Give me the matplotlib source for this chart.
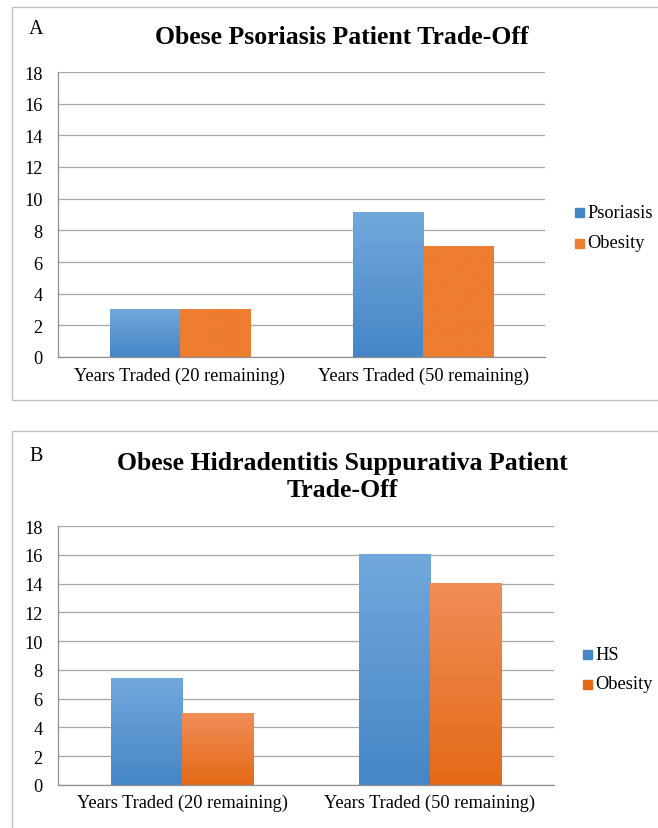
import numpy as np
import matplotlib
matplotlib.use('Agg')
import matplotlib.pyplot as plt
from matplotlib.patches import Rectangle
from matplotlib.colors import LinearSegmentedColormap

plt.rcParams['font.family'] = ['Liberation Serif', 'DejaVu Serif']

# ---- data
categories = ['Years Traded (20 remaining)', 'Years Traded (50 remaining)']
yticks = [0, 2, 4, 6, 8, 10, 12, 14, 16, 18]

title_a = 'Obese Psoriasis Patient Trade-Off'
series_a = ['Psoriasis', 'Obesity']
psoriasis = [3.0, 9.15]
obesity_a = [3.0, 7.0]

title_b = 'Obese Hidradentitis Suppurativa Patient\nTrade-Off'
series_b = ['HS', 'Obesity']
hs = [7.4, 16.0]
obesity_b = [5.0, 14.0]

W, H = 658, 829
blue_grad = ('#4586C6', '#72A8DC')
orange_flat = ('#ED7D31', '#ED7D31')
orange_grad = ('#E46A17', '#F18D58')


def fx(px):
    return px / W


def fy(py):
    return 1 - py / H


def grad_bars(ax, x, vals, width, cols):
    # bar with a vertical gradient laid over it
    cmap = LinearSegmentedColormap.from_list('g', list(cols))
    bars = ax.bar(x, vals, width, color=cols[0], zorder=2)
    grad = np.linspace(0, 1, 256).reshape(-1, 1)
    for b in bars:
        x0, y0 = b.get_x(), b.get_y()
        ax.imshow(grad, cmap=cmap, origin='lower', aspect='auto', zorder=3,
                  extent=(x0, x0 + b.get_width(), y0, y0 + b.get_height()))
    return bars


def panel(fig, box, title, title_y, letter, letter_y, names, v1, v2, c2, leg_y, leg_x, lab_y):
    l, r, t, b = box
    ax = fig.add_axes([fx(l), fy(b), fx(r) - fx(l), fy(t) - fy(b)])
    x = np.arange(len(categories))
    w = 0.288
    grad_bars(ax, x - w / 2, v1, w, blue_grad)
    grad_bars(ax, x + w / 2, v2, w, c2)
    ax.set_xlim(-0.5, len(categories) - 0.5)
    ax.set_ylim(0, 18)
    ax.set_yticks(yticks)
    ax.set_xticks(x)
    ax.set_xticklabels(categories, fontsize=13.2)
    ax.tick_params(axis='both', length=0, labelsize=13.2)
    ax.tick_params(axis='y', pad=11)
    ax.tick_params(axis='x', pad=(lab_y - b) * 0.72 - 9.5)
    ax.grid(axis='y', color='#A6A6A6', lw=0.9, zorder=0)
    for s in ['top', 'right']:
        ax.spines[s].set_visible(False)
    for s in ['left', 'bottom']:
        ax.spines[s].set_color('#8F8F8F')
        ax.spines[s].set_linewidth(0.9)
    ax.spines['bottom'].set_zorder(4)
    fig.text(fx(342), fy(title_y), title, ha='center', va='center',
             fontsize=18.5, fontweight='bold', linespacing=1.25)
    fig.text(fx(29), fy(letter_y), letter, ha='left', va='center', fontsize=14.5)
    for i, (nm, col) in enumerate(zip(names, [blue_grad[0], c2[0]])):
        yy = leg_y[i]
        fig.patches.append(Rectangle((fx(leg_x), fy(yy + 4.5)), fx(9), 9 / H,
                                     transform=fig.transFigure, color=col))
        fig.text(fx(leg_x + 12), fy(yy), nm, ha='left', va='center', fontsize=13.2)
    return ax


fig = plt.figure(figsize=(W / 100, H / 100), dpi=100)

# panel frames
fig.patches.append(Rectangle((fx(12), fy(401)), fx(700), (401 - 8) / H,
                             transform=fig.transFigure, fill=False, ec='#BFBFBF', lw=1))
fig.patches.append(Rectangle((fx(12), fy(900)), fx(700), (900 - 432) / H,
                             transform=fig.transFigure, fill=False, ec='#BFBFBF', lw=1))

panel(fig, (58, 545, 73, 358), title_a, 38, 'A', 30, series_a, psoriasis, obesity_a,
      orange_flat, (213, 244), 575, 381)
panel(fig, (58, 554, 527, 786), title_b, 477, 'B', 457, series_b, hs, obesity_b,
      orange_grad, (655, 685), 583, 808)

fig.savefig('out.png', dpi=100)
